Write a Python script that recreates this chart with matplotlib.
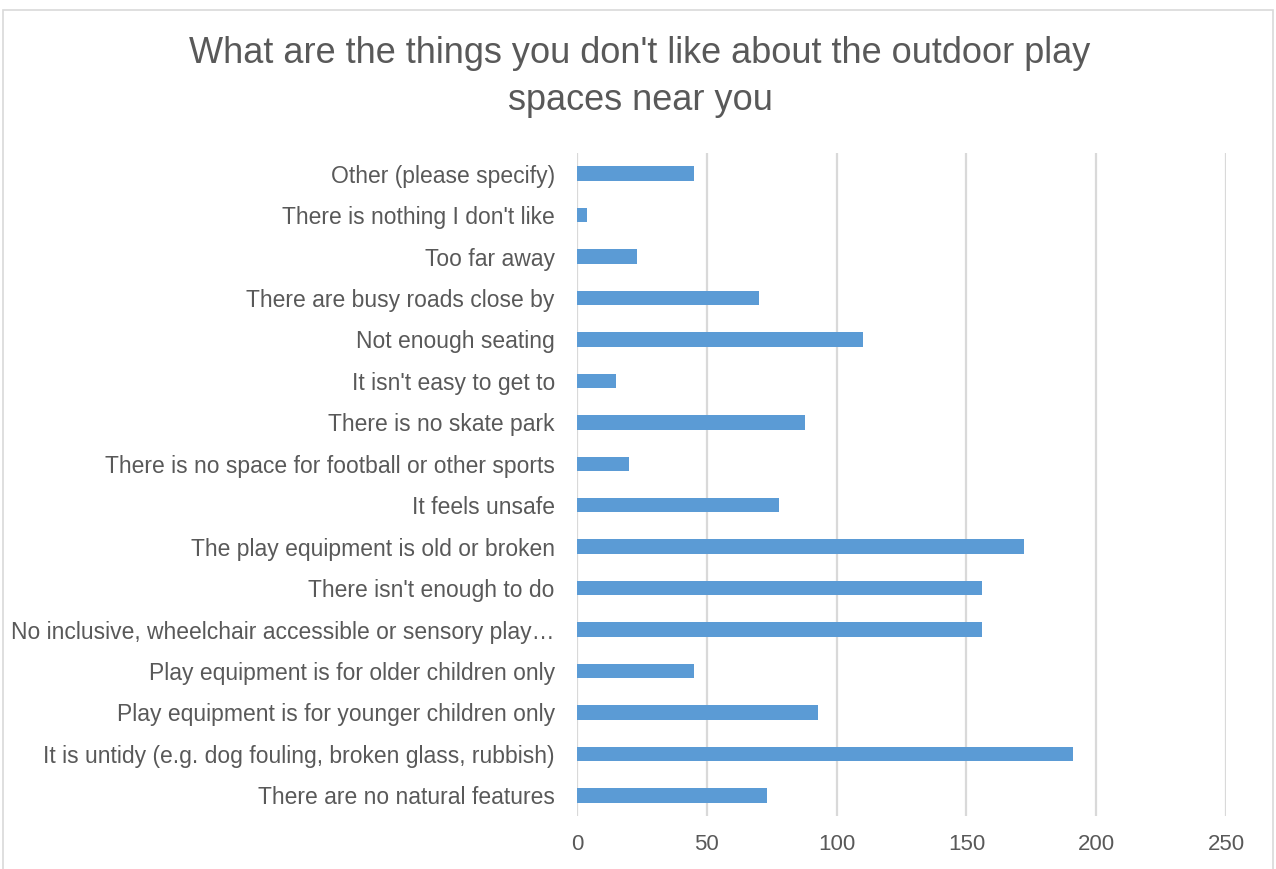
import matplotlib.pyplot as plt
from matplotlib.patches import Rectangle

# categories listed bottom-to-top, as Excel draws them
categories = [
    "There are no natural features",
    "It is untidy (e.g. dog fouling, broken glass, rubbish)",
    "Play equipment is for younger children only",
    "Play equipment is for older children only",
    "No inclusive, wheelchair accessible or sensory play\u2026",
    "There isn't enough to do",
    "The play equipment is old or broken",
    "It feels unsafe",
    "There is no space for football or other sports",
    "There is no skate park",
    "It isn't easy to get to",
    "Not enough seating",
    "There are busy roads close by",
    "Too far away",
    "There is nothing I don't like",
    "Other (please specify)",
]
counts = [73, 191, 93, 45, 156, 156, 172, 78, 20, 88, 15, 110, 70, 23, 4, 45]
x_ticks = [0, 50, 100, 150, 200, 250]

bar_color = "#5B9BD5"
text_color = "#595959"
grid_color = "#D9D9D9"

plt.rcParams["font.family"] = ["Liberation Sans", "DejaVu Sans"]

fig = plt.figure(figsize=(12.76, 8.69), dpi=100)
ax = fig.add_axes([577 / 1276, 1 - 816 / 869, (1226 - 577) / 1276, (816 - 153) / 869])

ax.barh(range(len(categories)), counts, height=0.35, color=bar_color, zorder=3)

ax.set_xlim(0, 250)
ax.set_ylim(-0.5, len(categories) - 0.5)
ax.set_xticks(x_ticks)
ax.set_xticklabels([str(t) for t in x_ticks], fontsize=16, color=text_color)
ax.set_yticks(range(len(categories)))
ax.set_yticklabels(categories, fontsize=16.5, color=text_color)
ax.tick_params(axis="both", length=0)
ax.tick_params(axis="x", pad=13)
ax.tick_params(axis="y", pad=16)
ax.grid(axis="x", color=grid_color, linewidth=1.6, zorder=0)
for side in ("top", "right", "bottom", "left"):
    ax.spines[side].set_visible(False)

fig.text(640 / 1276, 1 - 77 / 869,
         "What are the things you don't like about the outdoor play\nspaces near you",
         ha="center", va="center", fontsize=26, color=text_color, linespacing=1.42)

# chart border
fig.patches.append(Rectangle((3 / 1276, -0.01), 1270 / 1276, 1 - 10 / 869 + 0.01,
                             transform=fig.transFigure, fill=False,
                             edgecolor=grid_color, linewidth=1.2))

fig.savefig("out.png", dpi=100)
